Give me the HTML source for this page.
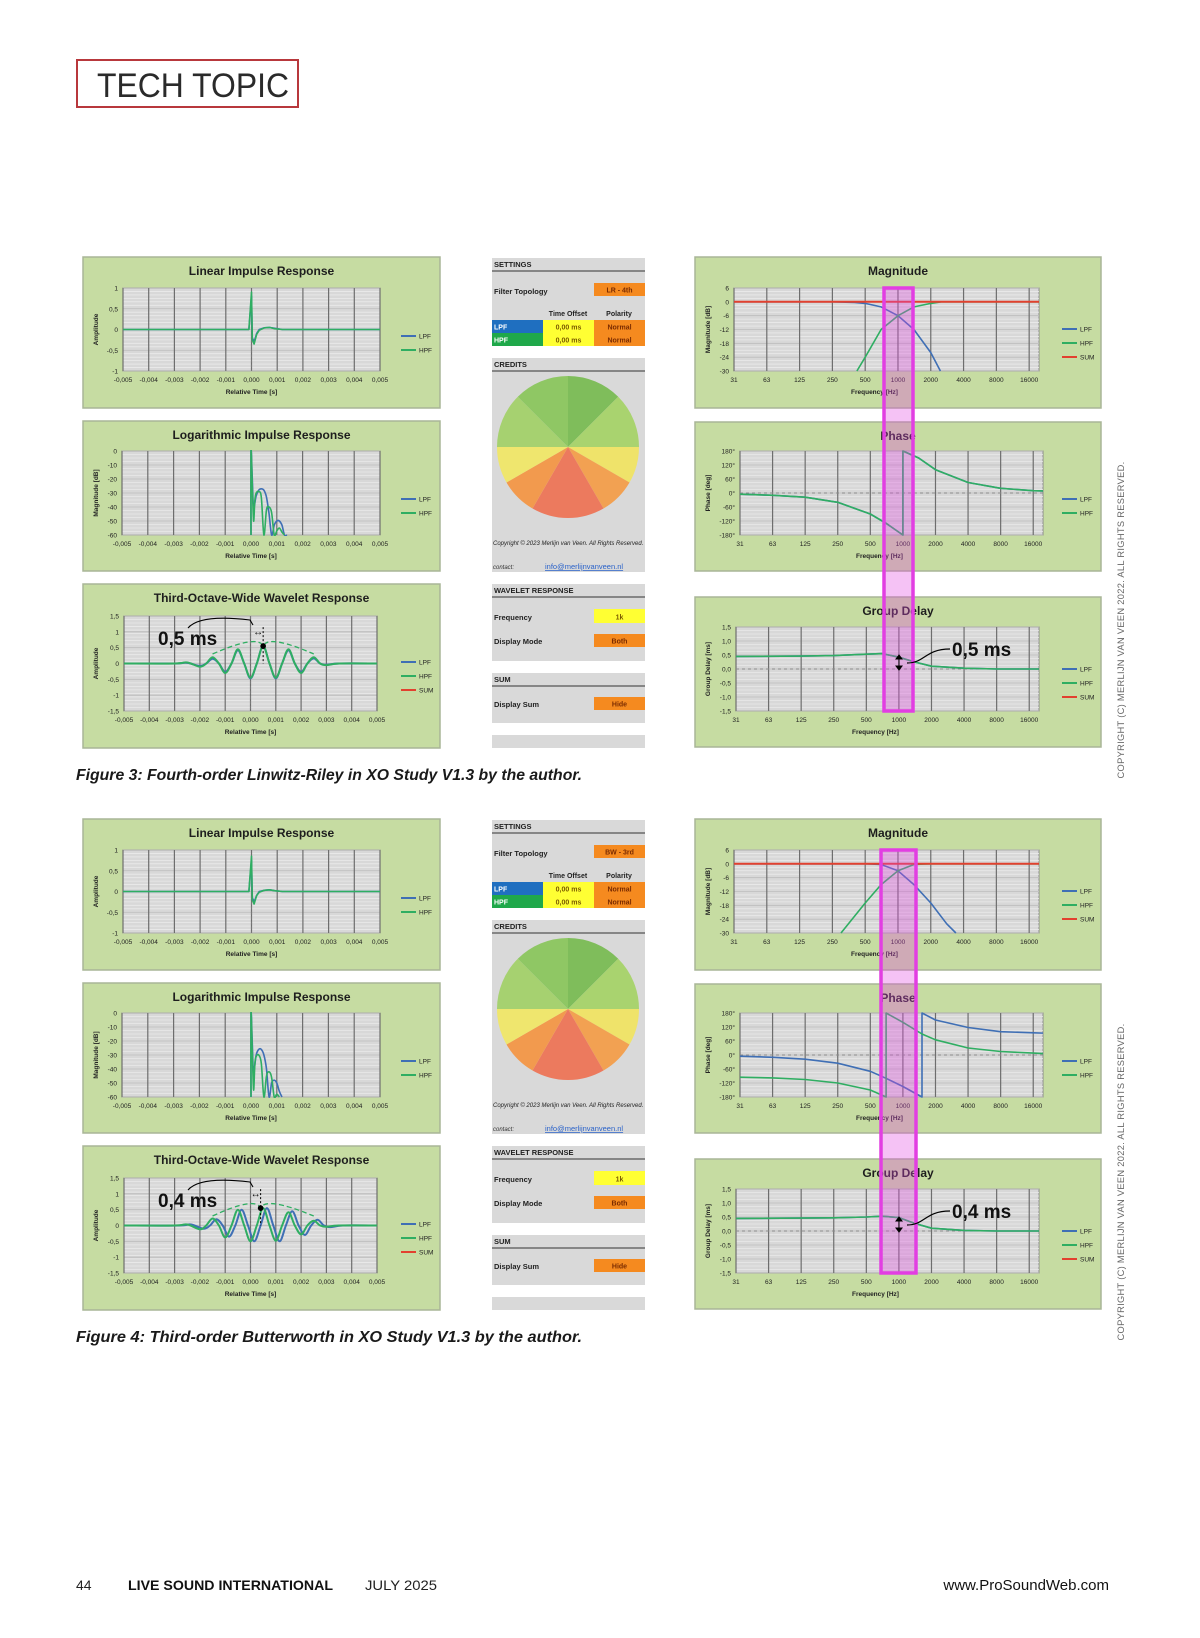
<!DOCTYPE html>
<html><head><meta charset="utf-8"><title>Tech Topic</title>
<style>
html,body{margin:0;padding:0;background:#fff;}
body{width:1200px;height:1638px;overflow:hidden;position:relative;font-family:"Liberation Sans",sans-serif;}
svg{position:absolute;left:0;top:0;}
</style></head>
<body>
<svg id="pg" width="1200" height="1638" viewBox="0 0 1200 1638" xmlns="http://www.w3.org/2000/svg"></svg>
<script>
// ---------- DATA ----------
const timeTicks = [-0.005,-0.004,-0.003,-0.002,-0.001,0,0.001,0.002,0.003,0.004,0.005];
const timeLabels = ['-0,005','-0,004','-0,003','-0,002','-0,001','0,000','0,001','0,002','0,003','0,004','0,005'];
const freqTicks = [31.25,62.5,125,250,500,1000,2000,4000,8000,16000];
const freqLabels = ['31','63','125','250','500','1000','2000','4000','8000','16000'];
const ampTicks = [-1,-0.5,0,0.5,1];
const ampLabels = ['-1','-0,5','0','0,5','1'];
const logTicks = [0,-10,-20,-30,-40,-50,-60];
const logLabels = ['0','-10','-20','-30','-40','-50','-60'];
const wavTicks = [-1.5,-1,-0.5,0,0.5,1,1.5];
const wavLabels = ['-1,5','-1','-0,5','0','0,5','1','1,5'];
const magTicks = [6,0,-6,-12,-18,-24,-30];
const magLabels = ['6','0','-6','-12','-18','-24','-30'];
const phaseTicks = [180,120,60,0,-60,-120,-180];
const phaseLabels = ['180°','120°','60°','0°','-60°','-120°','-180°'];
const gdTicks = [1.5,1,0.5,0,-0.5,-1,-1.5];
const gdLabels = ['1,5','1,0','0,5','0,0','-0,5','-1,0','-1,5'];

// Figure 3 (LR 4th)
const impT3 = [-0.005,-0.0001,0,0.00003,0.0001,0.0002,0.0003,0.0005,0.0007,0.0009,0.0012,0.005];
const impLpf3 = [0,0,0.8,-0.2,-0.3,-0.1,0,0.04,0.05,0.03,0,0];
const impHpf3 = [0,0,0.9,-0.25,-0.35,-0.12,-0.02,0.04,0.05,0.02,0,0];
const logLpfT3 = [0,0,0.00005,0.0001,0.0002,0.0003,0.0004,0.0005,0.0006,0.0007,0.0008,0.0009,0.001,0.0011,0.0012,0.0013,0.0014];
const logLpf3 = [-60,0,-20,-40,-32,-28,-27,-28,-33,-45,-60,-53,-50,-50,-53,-60,-60];
const logHpfT3 = [0,0,0.00005,0.0001,0.00015,0.0002,0.0003,0.0004,0.0005,0.0006,0.0007,0.0008,0.0009,0.001,0.0011,0.0012,0.0013];
const logHpf3 = [-60,0,-25,-50,-35,-30,-29,-33,-60,-42,-40,-44,-60,-57,-55,-58,-60];
const wavT = [-0.005,-0.003,-0.0025,-0.002,-0.00175,-0.0015,-0.00125,-0.001,-0.00075,-0.0005,-0.00025,0,0.00025,0.0005,0.00075,0.001,0.00125,0.0015,0.00175,0.002,0.00225,0.0025,0.00275,0.003,0.0035,0.005];
const wavHpf3 = [0,0,0.03,-0.1,0,0.2,0,-0.3,0,0.45,0,-0.45,0,0.55,0,-0.45,0,0.45,0,-0.3,0,0.2,0,-0.05,0,0];
const wavLpf3 = [0,0,0.02,-0.08,0,0.15,0,-0.27,0,0.42,0,-0.47,0,0.55,0,-0.47,0,0.42,0,-0.27,0,0.16,0,-0.04,0,0];
const magF3L = [31.25,250,400,500,700,1000,1400,2000,2450];
const magLpf3 = [0,0,-0.3,-0.7,-2.2,-6,-12,-22,-30];
const magF3H = [420,500,700,1000,1400,2000,2500,22000];
const magHpf3 = [-30,-24,-12,-6,-2.2,-0.7,0,0];
const magFSum = [31.25,22000];
const magSum = [0,0];
const phF3 = [31.25,63,125,250,500,700,1000,1000,1400,2000,4000,8000,16000,22000];
const phLpf3 = [-5,-10,-18,-40,-90,-130,-180,180,150,100,45,20,10,8];
const phHpf3 = [-5,-10,-18,-40,-90,-130,-180,180,150,100,45,20,10,8];
const gdF = [31.25,125,250,500,700,1000,1400,2000,4000,8000,22000];
const gdLpf3 = [0.45,0.46,0.48,0.53,0.55,0.42,0.25,0.1,0.03,0.0,0.0];
const gdHpf3 = [0.45,0.46,0.48,0.53,0.55,0.42,0.25,0.1,0.03,0.0,0.0];

// Figure 4 (BW 3rd)
const impLpf4 = [0,0,0.75,-0.15,-0.25,-0.1,0,0.03,0.04,0.02,0,0];
const impHpf4 = [0,0,0.85,-0.2,-0.3,-0.1,-0.02,0.03,0.04,0.02,0,0];
const logLpfT4 = [0,0,0.00005,0.0001,0.0002,0.0003,0.0004,0.0005,0.0006,0.0007,0.0008,0.0009,0.001,0.0011,0.0012];
const logLpf4 = [-60,0,-22,-42,-30,-26,-26,-30,-40,-60,-50,-48,-50,-56,-60];
const logHpfT4 = [0,0,0.00005,0.0001,0.00015,0.0002,0.0003,0.0004,0.0005,0.0006,0.0007,0.0008,0.0009,0.001,0.0011];
const logHpf4 = [-60,0,-28,-55,-36,-31,-30,-36,-60,-45,-42,-46,-60,-58,-60];
const wavTb4 = [-0.005,-0.00285,-0.00235,-0.00185,-0.0016,-0.00135,-0.0011,-0.00085,-0.0006,-0.00035,-0.0001,0.00015,0.0004,0.00065,0.0009,0.00115,0.0014,0.00165,0.0019,0.00215,0.0024,0.00265,0.0029,0.00315,0.00365,0.005];
const wavLpf4 = [0,0,0.03,-0.1,0,0.2,0,-0.35,0,0.5,0,-0.5,0,0.55,0,-0.5,0,0.45,0,-0.3,0,0.18,0,-0.05,0,0];
const wavHpf4 = [0,0,0.03,-0.12,0,0.22,0,-0.38,0,0.5,0,-0.5,0,0.55,0,-0.48,0,0.42,0,-0.28,0,0.15,0,-0.04,0,0];
const magF4L = [31.25,500,700,1000,1400,2000,2800,3400];
const magLpf4 = [0,0,-0.3,-3,-9,-17,-26,-30];
const magF4H = [300,500,700,1000,1400,2000,22000];
const magHpf4 = [-30,-17,-9,-3,-0.3,0,0];
const phF4L = [31.25,63,125,250,500,700,1000,1500,1500,2000,4000,8000,16000,22000];
const phLpf4 = [-5,-10,-18,-35,-70,-100,-135,-180,180,150,118,100,95,93];
const phF4H = [31.25,63,125,250,500,700,700,1000,1500,2000,4000,8000,16000,22000];
const phHpf4 = [-95,-98,-105,-120,-150,-180,180,140,90,65,30,15,8,5];
const gdLpf4 = [0.45,0.46,0.47,0.5,0.53,0.48,0.27,0.1,0.02,0.0,0.0];
const gdHpf4 = [0.45,0.46,0.47,0.5,0.53,0.48,0.27,0.1,0.02,0.0,0.0];

// ---------- DRAWING ----------
const NS='http://www.w3.org/2000/svg';
const svg=document.getElementById('pg');
const C={blue:'#3f6fb5',green:'#2fae62',red:'#e2412f',panel:'#c6dca2',plot:'#d8d8d8'};
function mk(parent,tag,attrs,name,inter){
  const el=document.createElementNS(NS,tag);
  for(const k in attrs) el.setAttribute(k,attrs[k]);
  
  
  parent.appendChild(el);
  return el;
}
function txt(parent,x,y,s,attrs,name){
  const a=Object.assign({x:x,y:y,'font-family':'Liberation Sans, sans-serif'},attrs||{});
  const t=mk(parent,'text',a,name,false);
  t.textContent=s;
  return t;
}
function linPath(pts){return pts.map((p,i)=>(i?'L':'M')+p[0].toFixed(1)+','+p[1].toFixed(1)).join('');}
function smoothPath(pts){
  let d='M'+pts[0][0].toFixed(1)+','+pts[0][1].toFixed(1);
  for(let i=0;i<pts.length-1;i++){
    const p0=pts[Math.max(0,i-1)],p1=pts[i],p2=pts[i+1],p3=pts[Math.min(pts.length-1,i+2)];
    const c1=[p1[0]+(p2[0]-p0[0])/6,p1[1]+(p2[1]-p0[1])/6];
    const c2=[p2[0]-(p3[0]-p1[0])/6,p2[1]-(p3[1]-p1[1])/6];
    d+='C'+c1.map(v=>v.toFixed(1)).join(',')+' '+c2.map(v=>v.toFixed(1)).join(',')+' '+p2[0].toFixed(1)+','+p2[1].toFixed(1);
  }
  return d;
}
let clipId=0;
function chart(o){
  const g=mk(svg,'g',{},o.name,false);
  mk(g,'rect',{x:o.px,y:o.py,width:o.pw,height:o.ph,fill:C.panel,stroke:'#a9b597','stroke-width':1.5},o.name+'-background',false);
  txt(g,o.px+o.pw/2,o.py+18,o.title,{'font-size':12,'font-weight':'bold','text-anchor':'middle',fill:'#1e1e1e'},o.name+'-title');
  const P=o.plot;
  mk(g,'rect',{x:P.x,y:P.y,width:P.w,height:P.h,fill:C.plot,stroke:'#8c8c8c','stroke-width':1},o.name+'-plot-area',false);
  const [y0,y1]=o.yDomain;
  const Y=v=>P.y+(y1-v)/(y1-y0)*P.h;
  let X;
  if(o.log){const span=Math.log2(o.xDomain[1]/o.xDomain[0]);X=f=>P.x+Math.log2(f/o.xDomain[0])/span*P.w;}
  else X=v=>P.x+(v-o.xDomain[0])/(o.xDomain[1]-o.xDomain[0])*P.w;
  const nMinor=Math.round(P.h/3.5);
  for(let i=1;i<nMinor;i++){
    const yy=P.y+i*P.h/nMinor;
    mk(g,'line',{x1:P.x,x2:P.x+P.w,y1:yy,y2:yy,stroke:'#eaeaea','stroke-width':0.8},o.name+'-minor-gridline',false);
  }
  o.yTicks.forEach((v,i)=>{
    mk(g,'line',{x1:P.x,x2:P.x+P.w,y1:Y(v),y2:Y(v),stroke:'#b8b8b8','stroke-width':0.8},o.name+'-y-gridline',false);
    txt(g,P.x-5,Y(v)+2.5,o.yLabels[i],{'font-size':6.5,'text-anchor':'end',fill:'#222'},o.name+'-y-tick-label');
  });
  o.xTicks.forEach((v,i)=>{
    mk(g,'line',{x1:X(v),x2:X(v),y1:P.y,y2:P.y+P.h,stroke:'#6e6e6e','stroke-width':1.2},o.name+'-x-gridline',false);
    txt(g,X(v),P.y+P.h+11,o.xLabels[i],{'font-size':6.5,'text-anchor':'middle',fill:'#222'},o.name+'-x-tick-label');
  });
  txt(g,P.x+P.w/2-(o.log?12:0),P.y+P.h+23,o.xTitle,{'font-size':6.5,'font-weight':'bold','text-anchor':'middle',fill:'#222'},o.name+'-x-axis-title');
  txt(g,0,0,o.yTitle,{'font-size':6.5,'font-weight':'bold','text-anchor':'middle',fill:'#222',transform:'translate('+(o.yTitleX)+','+(P.y+P.h/2)+') rotate(-90)'},o.name+'-y-axis-title');
  if(o.zeroH){mk(g,'line',{x1:P.x,x2:P.x+P.w,y1:Y(0),y2:Y(0),stroke:'#8a8a8a','stroke-width':1,'stroke-dasharray':'3,3'},o.name+'-zero-line',false);}
  if(o.zeroV){mk(g,'line',{x1:X(0),x2:X(0),y1:o.zeroVTop?Y(0):P.y,y2:P.y+P.h,stroke:'#777','stroke-width':1,'stroke-dasharray':'3,2'},o.name+'-zero-time-line',false);}
  const cid='clip'+(clipId++);
  const defs=mk(g,'defs',{},o.name+'-defs',false);
  const cp=mk(defs,'clipPath',{id:cid},o.name+'-clip',false);
  mk(cp,'rect',{x:P.x,y:P.y-1,width:P.w,height:P.h+2},o.name+'-clip-rect',false);
  o.series.forEach(s=>{
    const pts=s.x.map((xv,i)=>[X(xv),Y(s.y[i])]);
    mk(g,'path',{d:s.smooth?smoothPath(pts):linPath(pts),fill:'none',stroke:s.color,'stroke-width':s.w||1.6,'clip-path':'url(#'+cid+')','stroke-linejoin':'round'},o.name+'-series-'+s.label.toLowerCase(),false);
  });
  o.legend.forEach((l,i)=>{
    const ly=o.legY+i*14;
    mk(g,'line',{x1:o.legX,x2:o.legX+15,y1:ly,y2:ly,stroke:l[1],'stroke-width':2},o.name+'-legend-swatch',false);
    txt(g,o.legX+18,ly+2.5,l[0],{'font-size':6.5,fill:'#222'},o.name+'-legend-entry');
  });
  return {g:g,X:X,Y:Y};
}
const LEG2=[['LPF',C.blue],['HPF',C.green]];
const LEG3=[['LPF',C.blue],['HPF',C.green],['SUM',C.red]];
const FMAX=31.25*Math.pow(2,9.3);

function figure(dy,f){
  const left={xDomain:[-0.005,0.005],xTicks:timeTicks,xLabels:timeLabels,xTitle:'Relative Time [s]',legX:401};
  chart(Object.assign({},left,{name:'linear-impulse-'+f.id,title:'Linear Impulse Response',px:83,py:257+dy,pw:357,ph:151,
    plot:{x:123,y:288+dy,w:257,h:83},yDomain:[-1,1],yTicks:ampTicks,yLabels:ampLabels,yTitle:'Amplitude',yTitleX:98,zeroV:true,zeroVTop:true,legY:336+dy,legend:LEG2,
    series:[{x:impT3,y:f.impL,color:C.blue,label:'LPF'},{x:impT3,y:f.impH,color:C.green,label:'HPF'}]}));
  chart(Object.assign({},left,{name:'log-impulse-'+f.id,title:'Logarithmic Impulse Response',px:83,py:421+dy,pw:357,ph:150,
    plot:{x:122,y:451+dy,w:258,h:84},yDomain:[-60,0],yTicks:logTicks,yLabels:logLabels,yTitle:'Magnitude [dB]',yTitleX:98,legY:499+dy,legend:LEG2,
    series:[{x:f.logLT,y:f.logL,color:C.blue,label:'LPF',smooth:true},{x:f.logHT,y:f.logH,color:C.green,label:'HPF',smooth:true}]}));
  const w=chart(Object.assign({},left,{name:'wavelet-'+f.id,title:'Third-Octave-Wide Wavelet Response',px:83,py:584+dy,pw:357,ph:164,
    plot:{x:124,y:616+dy,w:253,h:95},yDomain:[-1.5,1.5],yTicks:wavTicks,yLabels:wavLabels,yTitle:'Amplitude',yTitleX:98,zeroV:true,zeroH:false,legY:662+dy,legend:LEG3,
    series:[{x:f.wavLT,y:f.wavL,color:C.blue,label:'LPF',smooth:true,w:2},{x:wavT,y:f.wavH,color:C.green,label:'HPF',smooth:true,w:2}]}));
  const ag=mk(svg,'g',{},'wavelet-annotation-'+f.id,false);
  const pk=[w.X(f.peakT),w.Y(0.55)];
  mk(ag,'path',{d:'M'+w.X(-0.0015)+','+w.Y(0.3)+' Q'+w.X(f.peakT-0.0002)+','+(w.Y(0.55)-12)+' '+pk[0]+','+pk[1]+' Q'+w.X(f.peakT+0.0002)+','+(w.Y(0.55)-12)+' '+w.X(0.0025)+','+w.Y(0.3),fill:'none',stroke:'#2fae62','stroke-width':1.3,'stroke-dasharray':'5,3'},'wavelet-envelope',false);
  mk(ag,'line',{x1:pk[0],x2:pk[0],y1:w.Y(1.15),y2:w.Y(0),stroke:'#000','stroke-width':1,'stroke-dasharray':'2,2'},'peak-marker-line',false);
  mk(ag,'circle',{cx:pk[0],cy:pk[1],r:2.8,fill:'#000'},'peak-marker-dot',false);
  mk(ag,'path',{d:'M188,628 Q200,614 250,620 L253,625',fill:'none',stroke:'#000','stroke-width':1.1,transform:'translate(0,'+dy+')'},'delay-arc',false);
  txt(ag,pk[0]-5,w.Y(1.0)+3,'↔',{'font-size':10,'font-weight':'bold','text-anchor':'middle'},'delay-double-arrow');
  txt(ag,158,645+dy,f.ms,{'font-size':19,'font-weight':'bold',fill:'#111'},'wavelet-delay-label');

  const right={log:true,xDomain:[31.25,FMAX],xTicks:freqTicks,xLabels:freqLabels,xTitle:'Frequency [Hz]',legX:1062};
  chart(Object.assign({},right,{name:'magnitude-'+f.id,title:'Magnitude',px:695,py:257+dy,pw:406,ph:151,
    plot:{x:734,y:288+dy,w:305,h:83},yDomain:[-30,6],yTicks:magTicks,yLabels:magLabels,yTitle:'Magnitude [dB]',yTitleX:710,legY:329+dy,legend:LEG3,
    series:[{x:f.magLF,y:f.magL,color:C.blue,label:'LPF'},{x:f.magHF,y:f.magH,color:C.green,label:'HPF'},{x:magFSum,y:magSum,color:C.red,label:'SUM',w:2}]}));
  chart(Object.assign({},right,{name:'phase-'+f.id,title:'Phase',px:695,py:422+dy,pw:406,ph:149,
    plot:{x:740,y:451+dy,w:303,h:84},yDomain:[-180,180],yTicks:phaseTicks,yLabels:phaseLabels,yTitle:'Phase [deg]',yTitleX:710,zeroH:true,legY:499+dy,legend:LEG2,
    series:[{x:f.phLF,y:f.phL,color:C.blue,label:'LPF'},{x:f.phHF,y:f.phH,color:C.green,label:'HPF'}]}));
  chart(Object.assign({},right,{name:'group-delay-'+f.id,title:'Group Delay',px:695,py:597+dy,pw:406,ph:150,
    plot:{x:736,y:627+dy,w:303,h:84},yDomain:[-1.5,1.5],yTicks:gdTicks,yLabels:gdLabels,yTitle:'Group Delay [ms]',yTitleX:710,zeroH:true,legY:669+dy,legend:LEG3,
    series:[{x:gdF,y:f.gdL,color:C.blue,label:'LPF'},{x:gdF,y:f.gdH,color:C.green,label:'HPF'}]}));
  mk(svg,'rect',{x:f.band[0],y:288+dy,width:f.band[1]-f.band[0],height:423,fill:'rgba(226,70,226,0.33)',stroke:'#e23ee2','stroke-width':3.5},'crossover-highlight-band',false);
  const gg=mk(svg,'g',{},'group-delay-annotation-'+f.id,false);
  mk(gg,'path',{d:'M'+(899)+','+(655+dy)+' l-3,4 h6 z M899,'+(670+dy)+' l-3,-4 h6 z M899,'+(658+dy)+' V'+(667+dy),fill:'#000',stroke:'#000','stroke-width':1},'delay-arrows',false);
  mk(gg,'path',{d:'M907,'+(663+dy)+' C925,'+(663+dy)+' 925,'+(649+dy)+' 950,'+(649+dy),fill:'none',stroke:'#000','stroke-width':1.2},'delay-leader',false);
  txt(gg,952,656+dy,f.ms,{'font-size':19,'font-weight':'bold',fill:'#111'},'group-delay-label');

  const m=mk(svg,'g',{},'settings-column-'+f.id,false);
  function box(y,h,title,nm){
    mk(m,'rect',{x:492,y:y+dy,width:153,height:h,fill:'#d9d9d9'},nm+'-panel',false);
    txt(m,494,y+dy+9,title,{'font-size':7.5,'font-weight':'bold',fill:'#222'},nm+'-header');
    mk(m,'line',{x1:492,x2:645,y1:y+dy+13,y2:y+dy+13,stroke:'#555','stroke-width':1.2},nm+'-header-rule',false);
  }
  function cell(x,y,w,h,fill,t,col,nm,anchor){
    mk(m,'rect',{x:x,y:y+dy,width:w,height:h,fill:fill},nm,true);
    txt(m,anchor==='start'?x+2:x+w/2,y+dy+h-3.5,t,{'font-size':7,'font-weight':'bold','text-anchor':anchor||'middle',fill:col},nm+'-text');
  }
  box(258,88,'SETTINGS','settings');
  txt(m,494,294+dy,'Filter Topology',{'font-size':7.5,'font-weight':'bold',fill:'#222'},'filter-topology-label');
  cell(594,283,51,13,'#f58a1f',f.topo,'#7a2b00','filter-topology-select');
  txt(m,568,316+dy,'Time Offset',{'font-size':7,'font-weight':'bold','text-anchor':'middle',fill:'#222'},'time-offset-header');
  txt(m,619,316+dy,'Polarity',{'font-size':7,'font-weight':'bold','text-anchor':'middle',fill:'#222'},'polarity-header');
  cell(492,320,51,13,'#1f6fc0','LPF','#fff','lpf-row-label','start');
  cell(543,320,51,13,'#ffff33','0,00 ms','#7a5a00','lpf-time-offset');
  cell(594,320,51,13,'#f58a1f','Normal','#7a2b00','lpf-polarity');
  cell(492,333,51,13,'#1fa84a','HPF','#fff','hpf-row-label','start');
  cell(543,333,51,13,'#ffff33','0,00 ms','#7a5a00','hpf-time-offset');
  cell(594,333,51,13,'#f58a1f','Normal','#7a2b00','hpf-polarity');
  box(358,214,'CREDITS','credits');
  const cx=568,cy=447+dy,r=71;
  const wedges=[[0,30,'#efe36a'],[30,60,'#f2a152'],[60,120,'#ec7a5e'],[120,150,'#f29a4e'],[150,180,'#efe66e'],[180,225,'#a6d170'],[225,270,'#8fc764'],[270,315,'#7fbd5b'],[315,360,'#a9d36f']];
  wedges.forEach(wd=>{
    const a0=wd[0]*Math.PI/180,a1=wd[1]*Math.PI/180;
    mk(m,'path',{d:'M'+cx+','+cy+' L'+(cx+r*Math.cos(a0)).toFixed(1)+','+(cy+r*Math.sin(a0)).toFixed(1)+' A'+r+','+r+' 0 0 1 '+(cx+r*Math.cos(a1)).toFixed(1)+','+(cy+r*Math.sin(a1)).toFixed(1)+' Z',fill:wd[2]},'credits-logo-wedge',false);
  });
  txt(m,493,545+dy,'Copyright © 2023 Merlijn van Veen. All Rights Reserved.',{'font-size':6,'font-style':'italic',fill:'#222'},'credits-copyright');
  txt(m,493,569+dy,'contact:',{'font-size':6,'font-style':'italic',fill:'#333'},'contact-label');
  const em=txt(m,545,569+dy,'info@merlijnvanveen.nl',{'font-size':7.5,fill:'#2a62c9','text-decoration':'underline'},'contact-email-link');
  
  box(584,77,'WAVELET RESPONSE','wavelet-settings');
  txt(m,494,620+dy,'Frequency',{'font-size':7.5,'font-weight':'bold',fill:'#222'},'frequency-label');
  cell(594,609,51,14,'#ffff33','1k','#7a5a00','frequency-select');
  txt(m,494,644+dy,'Display Mode',{'font-size':7.5,'font-weight':'bold',fill:'#222'},'display-mode-label');
  cell(594,634,51,13,'#f58a1f','Both','#7a2b00','display-mode-select');
  box(673,50,'SUM','sum-settings');
  txt(m,494,707+dy,'Display Sum',{'font-size':7.5,'font-weight':'bold',fill:'#222'},'display-sum-label');
  cell(594,697,51,13,'#f58a1f','Hide','#7a2b00','display-sum-select');
  mk(m,'rect',{x:492,y:735+dy,width:153,height:13,fill:'#d9d9d9'},'empty-footer-bar',false);

  txt(svg,0,0,'COPYRIGHT (C) MERLIJN VAN VEEN 2022. ALL RIGHTS RESERVED.',{'font-size':9.3,fill:'#666','text-anchor':'middle',transform:'translate(1124,'+(620+dy)+') rotate(-90)','letter-spacing':'0.3'},'copyright-notice-'+f.id);
  txt(svg,76,780+dy,f.caption,{'font-size':15.5,'font-weight':'bold','font-style':'italic',fill:'#1a1a1a',textLength:506,lengthAdjust:'spacingAndGlyphs'},'figure-caption-'+f.id);
}

figure(0,{id:'fig3',impL:impLpf3,impH:impHpf3,logLT:logLpfT3,logL:logLpf3,logHT:logHpfT3,logH:logHpf3,wavLT:wavT,wavL:wavLpf3,wavH:wavHpf3,peakT:0.0005,
  magLF:magF3L,magL:magLpf3,magHF:magF3H,magH:magHpf3,phLF:phF3,phL:phLpf3,phHF:phF3,phH:phHpf3,gdL:gdLpf3,gdH:gdHpf3,band:[884,913],ms:'0,5 ms',topo:'LR - 4th',
  caption:'Figure 3: Fourth-order Linwitz-Riley in XO Study V1.3 by the author.'});
figure(562,{id:'fig4',impL:impLpf4,impH:impHpf4,logLT:logLpfT4,logL:logLpf4,logHT:logHpfT4,logH:logHpf4,wavLT:wavTb4,wavL:wavLpf4,wavH:wavHpf4,peakT:0.0004,
  magLF:magF4L,magL:magLpf4,magHF:magF4H,magH:magHpf4,phLF:phF4L,phL:phLpf4,phHF:phF4H,phH:phHpf4,gdL:gdLpf4,gdH:gdHpf4,band:[881,916],ms:'0,4 ms',topo:'BW - 3rd',
  caption:'Figure 4: Third-order Butterworth in XO Study V1.3 by the author.'});

mk(svg,'rect',{x:77,y:60,width:221,height:47,fill:'#fff',stroke:'#b8383c','stroke-width':2},'tech-topic-box',false);
txt(svg,97,97,'TECH TOPIC',{'font-size':34,fill:'#2a2a2a','font-weight':'normal',textLength:192,lengthAdjust:'spacingAndGlyphs'},'tech-topic-heading');
txt(svg,76,1590,'44',{'font-size':14,fill:'#222'},'page-number');
txt(svg,128,1590,'LIVE SOUND INTERNATIONAL',{'font-size':14,'font-weight':'bold',fill:'#111',textLength:205,lengthAdjust:'spacingAndGlyphs'},'publication-name');
txt(svg,365,1590,'JULY  2025',{'font-size':14,fill:'#222',textLength:72,lengthAdjust:'spacingAndGlyphs'},'issue-date');
txt(svg,1109,1590,'www.ProSoundWeb.com',{'font-size':15,fill:'#111','text-anchor':'end'},'website-url');
</script>
</body></html>
